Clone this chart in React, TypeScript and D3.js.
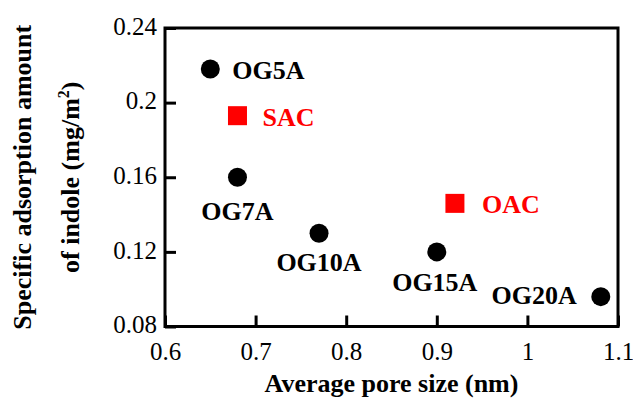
import { useEffect, useRef } from 'react';
import * as d3 from 'd3';

// OG series (black circles)
const ogNames = ['OG5A', 'OG7A', 'OG10A', 'OG15A', 'OG20A'];
const ogPoreSize = [0.65, 0.68, 0.77, 0.9, 1.081];
const ogAdsorption = [0.218, 0.16, 0.13, 0.12, 0.096];

// activated carbons (red squares)
const acNames = ['SAC', 'OAC'];
const acPoreSize = [0.68, 0.92];
const acAdsorption = [0.193, 0.146];

const xTicks = [0.6, 0.7, 0.8, 0.9, 1.0, 1.1];
const yTicks = [0.08, 0.12, 0.16, 0.2, 0.24];

// label placement relative to its marker: [dx, dy, anchor]
const ogLabelPos: [number, number, string][] = [
  [22, 10, 'start'],
  [0, 43, 'middle'],
  [0, 38, 'middle'],
  [-2, 39, 'middle'],
  [-24, 7, 'end'],
];
const acLabelPos: [number, number, string][] = [
  [25, 10, 'start'],
  [27, 10, 'start'],
];

const W = 633;
const H = 399;
const margin = { left: 165, right: 15, top: 28, bottom: 72.5 };
const FONT = "Liberation Serif, DejaVu Serif";

export default function App() {
  const svgRef = useRef<SVGSVGElement>(null);

  useEffect(() => {
    if (!svgRef.current) return;
    const svg = d3.select(svgRef.current);
    svg.selectAll('*').remove();

    const x = d3
      .scaleLinear()
      .domain([0.6, 1.1])
      .range([margin.left, W - margin.right]);
    const y = d3
      .scaleLinear()
      .domain([0.08, 0.24])
      .range([H - margin.bottom, margin.top]);

    // --- axes (inward ticks) ---
    const xAxis = svg
      .append('g')
      .attr('transform', `translate(0,${H - margin.bottom})`)
      .call(
        d3
          .axisBottom(x)
          .tickValues(xTicks)
          .tickSize(-11)
          .tickPadding(16)
          .tickFormat((d) => `${+d}`),
      );
    const yAxis = svg
      .append('g')
      .attr('transform', `translate(${margin.left},0)`)
      .call(
        d3
          .axisLeft(y)
          .tickValues(yTicks)
          .tickSize(-11)
          .tickPadding(8)
          .tickFormat((d) => `${+d}`),
      );

    [xAxis, yAxis].forEach((a) => {
      a.attr('font-family', FONT).attr('font-size', 25);
      a.select('.domain').remove();
      a.selectAll('.tick line').attr('stroke', '#000').attr('stroke-width', 3);
      a.selectAll('.tick text').attr('fill', '#000');
    });
    yAxis.selectAll('.tick text').attr('dy', '0.25em');

    // frame
    svg
      .append('rect')
      .attr('x', margin.left)
      .attr('y', margin.top)
      .attr('width', W - margin.left - margin.right)
      .attr('height', H - margin.top - margin.bottom)
      .attr('fill', 'none')
      .attr('stroke', '#000')
      .attr('stroke-width', 3);

    // --- OG circles ---
    const og = ogNames.map((name, i) => ({
      name,
      px: x(ogPoreSize[i]),
      py: y(ogAdsorption[i]),
      pos: ogLabelPos[i],
    }));
    svg
      .append('g')
      .selectAll('circle')
      .data(og)
      .enter()
      .append('circle')
      .attr('cx', (d) => d.px)
      .attr('cy', (d) => d.py)
      .attr('r', 9.5)
      .attr('fill', '#000');
    svg
      .append('g')
      .attr('font-family', FONT)
      .attr('font-weight', 'bold')
      .attr('font-size', 26)
      .selectAll('text')
      .data(og)
      .enter()
      .append('text')
      .attr('x', (d) => d.px + d.pos[0])
      .attr('y', (d) => d.py + d.pos[1])
      .attr('text-anchor', (d) => d.pos[2])
      .attr('fill', '#000')
      .text((d) => d.name);

    // --- activated carbon squares ---
    const ac = acNames.map((name, i) => ({
      name,
      px: x(acPoreSize[i]),
      py: y(acAdsorption[i]),
      pos: acLabelPos[i],
    }));
    const sq = 19;
    svg
      .append('g')
      .selectAll('rect')
      .data(ac)
      .enter()
      .append('rect')
      .attr('x', (d) => d.px - sq / 2)
      .attr('y', (d) => d.py - sq / 2)
      .attr('width', sq)
      .attr('height', sq)
      .attr('fill', '#ff0000');
    svg
      .append('g')
      .attr('font-family', FONT)
      .attr('font-weight', 'bold')
      .attr('font-size', 26)
      .selectAll('text')
      .data(ac)
      .enter()
      .append('text')
      .attr('x', (d) => d.px + d.pos[0])
      .attr('y', (d) => d.py + d.pos[1])
      .attr('text-anchor', (d) => d.pos[2])
      .attr('fill', '#ff0000')
      .text((d) => d.name);

    // --- axis titles ---
    const cx = (margin.left + W - margin.right) / 2;
    const cy = (margin.top + H - margin.bottom) / 2;
    svg
      .append('text')
      .attr('x', cx)
      .attr('y', 392)
      .attr('text-anchor', 'middle')
      .attr('font-family', FONT)
      .attr('font-weight', 'bold')
      .attr('font-size', 26)
      .text('Average pore size (nm)');

    const yt = svg
      .append('g')
      .attr('transform', `rotate(-90)`)
      .attr('font-family', FONT)
      .attr('font-weight', 'bold')
      .attr('font-size', 26)
      .attr('text-anchor', 'middle');
    yt.append('text').attr('x', -cy).attr('y', 31).text('Specific adsorption amount');
    const l2 = yt.append('text').attr('x', -cy).attr('y', 79);
    l2.append('tspan').text('of indole (mg/m');
    l2.append('tspan').attr('dy', -10).attr('font-size', 16).text('2');
    l2.append('tspan').attr('dy', 10).text(')');
  }, []);

  return (
    <svg
      ref={svgRef}
      width={W}
      height={H}
      style={{ position: 'absolute', left: 0, top: 0, background: '#fff' }}
    />
  );
}
